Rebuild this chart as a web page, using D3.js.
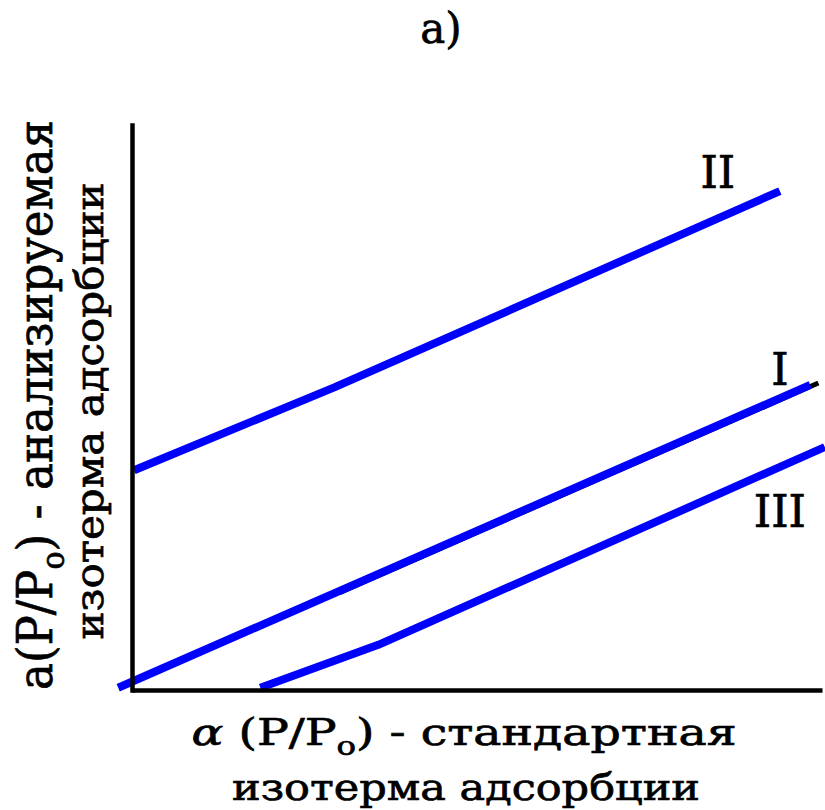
<!DOCTYPE html>
<html>
<head>
<meta charset="utf-8">
<script src="https://cdn.jsdelivr.net/npm/d3@7/dist/d3.min.js"></script>
</head>
<body style="margin:0; background:#fff">
<svg class="chart-svg" width="825" height="810"></svg>
<script>
// Data (arbitrary units, 0..100 on both axes)
var seriesNames = ["I", "II", "III"];
var seriesI = [[-2.0, 0.4], [98.3, 54.0]];
var seriesII = [[0.3, 38.9], [29.4, 53.6], [93.9, 88.3]];
var seriesIII = [[18.6, 0.4], [35.7, 8.0], [100.4, 43.0]];
var labelAnchors = [[93.9, 54.0], [84.9, 88.8], [93.9, 28.9]];
var shadowI = [[30.0, 17.5], [99.4, 54.6]];

var FONT = "'DejaVu Serif'";

// SVG and properties
var svg = d3.select(".chart-svg"),
    margin = {top: 125, right: 3, bottom: 120, left: 132},
    width = +svg.attr("width") - margin.left - margin.right,
    height = +svg.attr("height") - margin.top - margin.bottom;

// Scaling
var x = d3.scaleLinear().domain([0, 100]).range([0, width]),
    y = d3.scaleLinear().domain([0, 100]).range([height, 0]);

var plot = svg.append("g")
    .attr("transform", "translate(" + margin.left + "," + margin.top + ")");

var line = d3.line()
    .x(function(d) { return x(d[0]); })
    .y(function(d) { return y(d[1]); });

// heavier serif text, like the scanned figure
function styleText(sel, size) {
    return sel
        .style("font-family", FONT)
        .attr("font-size", size)
        .attr("fill", "#000")
        .attr("stroke", "#000")
        .attr("stroke-width", 0.7);
}

// Title
styleText(svg.append("text"), 42)
    .attr("x", 441)
    .attr("y", 43)
    .attr("text-anchor", "middle")
    .text("a)");

// Black edge under line I (as in the scan)
plot.append("path")
    .attr("d", line(shadowI))
    .attr("transform", "translate(0.5,1.5)")
    .attr("fill", "none")
    .attr("stroke", "#000")
    .attr("stroke-width", 5);

// Lines
var allSeries = [seriesI, seriesII, seriesIII];
plot.selectAll(".series")
    .data(allSeries)
    .enter()
        .append("path")
        .attr("class", "series")
        .attr("d", function(d) { return line(d); })
        .attr("fill", "none")
        .attr("stroke", "#0000ff")
        .attr("stroke-width", 8)
        .attr("stroke-linejoin", "round");

// Axes (plain lines, no ticks)
plot.append("g")
    .attr("transform", "translate(0," + height + ")")
    .call(d3.axisBottom(x).ticks(0).tickSizeOuter(0))
    .select(".domain")
        .attr("stroke", "#000")
        .attr("stroke-width", 4.5);

plot.append("g")
    .call(d3.axisLeft(y).ticks(0).tickSizeOuter(0))
    .select(".domain")
        .attr("stroke", "#000")
        .attr("stroke-width", 4.5)
        .attr("stroke-linecap", "square");

// Series labels
styleText(plot.selectAll(".series-label")
    .data(seriesNames)
    .enter()
        .append("text")
        .attr("class", "series-label"), 44)
    .attr("x", function(d, i) { return x(labelAnchors[i][0]); })
    .attr("y", function(d, i) { return y(labelAnchors[i][1]); })
    .attr("text-anchor", "middle")
    .text(function(d) { return d; });

// Text label for the x axis
var xl1 = styleText(svg.append("text"), 38)
    .attr("x", 464)
    .attr("y", 745)
    .attr("text-anchor", "middle")
    .attr("textLength", 545)
    .attr("lengthAdjust", "spacingAndGlyphs");
xl1.append("tspan").attr("font-style", "italic").text("\u03b1");
xl1.append("tspan").text(" (P/P");
xl1.append("tspan").attr("font-size", 26).attr("dy", 10).text("o");
xl1.append("tspan").attr("dy", -10).text(") - стандартная");

styleText(svg.append("text"), 38)
    .attr("x", 466)
    .attr("y", 800)
    .attr("text-anchor", "middle")
    .attr("textLength", 468)
    .attr("lengthAdjust", "spacingAndGlyphs")
    .text("изотерма адсорбции");

// Text label for the y axis
var yl1 = styleText(svg.append("text"), 48)
    .attr("transform", "translate(52,405) rotate(-90)")
    .attr("text-anchor", "middle")
    .attr("textLength", 570)
    .attr("lengthAdjust", "spacingAndGlyphs");
yl1.append("tspan").text("a(P/P");
yl1.append("tspan").attr("font-size", 32).attr("dy", 12).text("o");
yl1.append("tspan").attr("dy", -12).text(") - анализируемая");

styleText(svg.append("text"), 40)
    .attr("transform", "translate(103,411) rotate(-90)")
    .attr("text-anchor", "middle")
    .attr("textLength", 457)
    .attr("lengthAdjust", "spacingAndGlyphs")
    .text("изотерма адсорбции");
</script>
</body>
</html>
